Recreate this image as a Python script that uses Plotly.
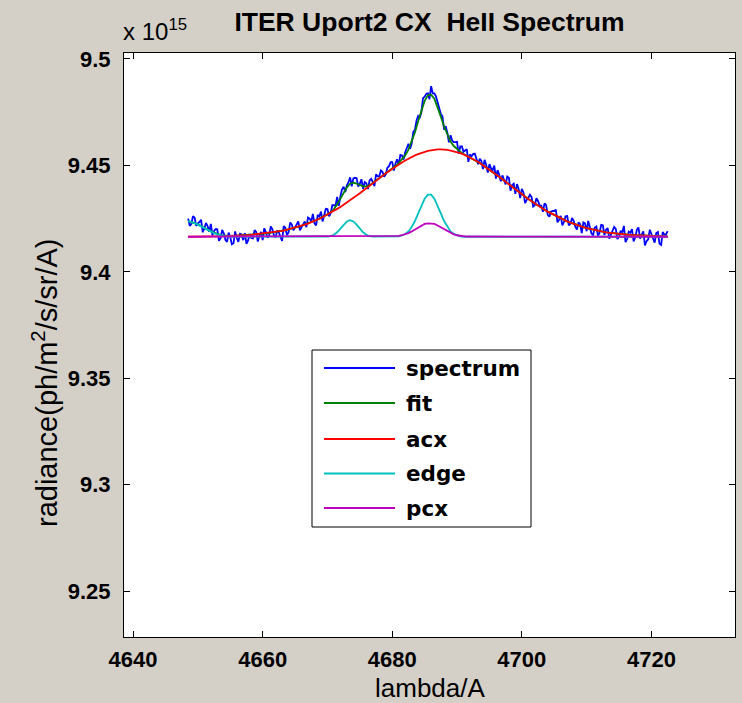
import plotly.graph_objects as go

# ---------------- data (radiance in units of 1e15 ph/m^2/s/sr/A) ----------------
# measured spectrum, 0.25 A sampling from 4648.5 A
spectrum_wavelength = [round(4648.5 + 0.25 * i, 2) for i in range(297)]
spectrum = [
    9.4250, 9.4216, 9.4226, 9.4262, 9.4254, 9.4216, 9.4228, 9.4234, 9.4245, 9.4186,
    9.4204, 9.4230, 9.4215, 9.4189, 9.4225, 9.4172, 9.4192, 9.4201, 9.4200, 9.4146,
    9.4158, 9.4197, 9.4181, 9.4150, 9.4141, 9.4184, 9.4164, 9.4129, 9.4134, 9.4190,
    9.4160, 9.4141, 9.4179, 9.4176, 9.4149, 9.4182, 9.4132, 9.4148, 9.4178, 9.4159,
    9.4157, 9.4196, 9.4188, 9.4142, 9.4169, 9.4188, 9.4149, 9.4205, 9.4186, 9.4161,
    9.4170, 9.4214, 9.4200, 9.4171, 9.4162, 9.4194, 9.4185, 9.4162, 9.4145, 9.4215,
    9.4206, 9.4173, 9.4185, 9.4232, 9.4223, 9.4195, 9.4211, 9.4225, 9.4237, 9.4195,
    9.4207, 9.4225, 9.4237, 9.4210, 9.4255, 9.4250, 9.4238, 9.4272, 9.4228, 9.4218,
    9.4268, 9.4260, 9.4283, 9.4237, 9.4269, 9.4296, 9.4295, 9.4261, 9.4276, 9.4313,
    9.4313, 9.4311, 9.4352, 9.4310, 9.4355, 9.4388, 9.4400, 9.4375, 9.4407, 9.4421,
    9.4444, 9.4402, 9.4439, 9.4442, 9.4440, 9.4401, 9.4415, 9.4435, 9.4390, 9.4422,
    9.4416, 9.4389, 9.4429, 9.4437, 9.4422, 9.4403, 9.4458, 9.4449, 9.4450, 9.4476,
    9.4469, 9.4447, 9.4458, 9.4489, 9.4496, 9.4515, 9.4515, 9.4476, 9.4509, 9.4529,
    9.4503, 9.4549, 9.4547, 9.4527, 9.4562, 9.4581, 9.4602, 9.4578, 9.4601, 9.4658,
    9.4667, 9.4711, 9.4732, 9.4723, 9.4751, 9.4816, 9.4823, 9.4836, 9.4839, 9.4811,
    9.4872, 9.4838, 9.4838, 9.4824, 9.4795, 9.4762, 9.4741, 9.4731, 9.4668, 9.4684,
    9.4654, 9.4608, 9.4642, 9.4617, 9.4609, 9.4609, 9.4611, 9.4555, 9.4589, 9.4589,
    9.4564, 9.4570, 9.4576, 9.4517, 9.4552, 9.4543, 9.4554, 9.4555, 9.4526, 9.4506,
    9.4531, 9.4521, 9.4483, 9.4526, 9.4503, 9.4466, 9.4506, 9.4486, 9.4478, 9.4499,
    9.4438, 9.4478, 9.4457, 9.4426, 9.4453, 9.4434, 9.4411, 9.4448, 9.4442, 9.4381,
    9.4408, 9.4414, 9.4366, 9.4412, 9.4391, 9.4346, 9.4390, 9.4374, 9.4323, 9.4338,
    9.4347, 9.4362, 9.4352, 9.4307, 9.4313, 9.4346, 9.4333, 9.4311, 9.4311, 9.4282,
    9.4322, 9.4313, 9.4268, 9.4259, 9.4283, 9.4286, 9.4286, 9.4292, 9.4233, 9.4245,
    9.4263, 9.4218, 9.4234, 9.4261, 9.4262, 9.4219, 9.4226, 9.4253, 9.4240, 9.4212,
    9.4199, 9.4232, 9.4224, 9.4182, 9.4232, 9.4228, 9.4191, 9.4239, 9.4207, 9.4180,
    9.4173, 9.4207, 9.4213, 9.4169, 9.4184, 9.4221, 9.4219, 9.4173, 9.4198, 9.4205,
    9.4156, 9.4173, 9.4192, 9.4211, 9.4202, 9.4154, 9.4166, 9.4193, 9.4185, 9.4216,
    9.4140, 9.4155, 9.4189, 9.4184, 9.4201, 9.4143, 9.4162, 9.4197, 9.4209, 9.4156,
    9.4175, 9.4190, 9.4124, 9.4144, 9.4153, 9.4198, 9.4178, 9.4158, 9.4137, 9.4182,
    9.4187, 9.4132, 9.4127, 9.4187, 9.4174, 9.4176, 9.4191,
]

# model curves, 0.5 A sampling from 4648.5 A
wavelength = [round(4648.5 + 0.5 * i, 1) for i in range(149)]
fit = [
    9.4238, 9.4234, 9.4229, 9.4223, 9.4215, 9.4206, 9.4197, 9.4190, 9.4184, 9.4178,
    9.4173, 9.4171, 9.4169, 9.4169, 9.4169, 9.4170, 9.4171, 9.4171, 9.4172, 9.4173,
    9.4175, 9.4176, 9.4177, 9.4179, 9.4180, 9.4182, 9.4185, 9.4187, 9.4190, 9.4193,
    9.4196, 9.4200, 9.4203, 9.4207, 9.4212, 9.4217, 9.4222, 9.4227, 9.4233, 9.4240,
    9.4246, 9.4253, 9.4261, 9.4270, 9.4281, 9.4295, 9.4317, 9.4343, 9.4372, 9.4397,
    9.4414, 9.4419, 9.4415, 9.4407, 9.4402, 9.4401, 9.4407, 9.4417, 9.4428, 9.4440,
    9.4451, 9.4463, 9.4474, 9.4485, 9.4497, 9.4511, 9.4527, 9.4547, 9.4574, 9.4611,
    9.4655, 9.4707, 9.4759, 9.4803, 9.4829, 9.4832, 9.4813, 9.4775, 9.4729, 9.4683,
    9.4644, 9.4612, 9.4591, 9.4576, 9.4564, 9.4554, 9.4546, 9.4537, 9.4529, 9.4521,
    9.4511, 9.4501, 9.4491, 9.4481, 9.4470, 9.4458, 9.4447, 9.4435, 9.4423, 9.4412,
    9.4400, 9.4388, 9.4376, 9.4365, 9.4353, 9.4342, 9.4332, 9.4321, 9.4311, 9.4301,
    9.4292, 9.4283, 9.4275, 9.4266, 9.4258, 9.4251, 9.4244, 9.4237, 9.4231, 9.4225,
    9.4219, 9.4214, 9.4210, 9.4206, 9.4202, 9.4198, 9.4195, 9.4192, 9.4189, 9.4186,
    9.4184, 9.4182, 9.4180, 9.4178, 9.4177, 9.4175, 9.4174, 9.4173, 9.4172, 9.4171,
    9.4170, 9.4169, 9.4168, 9.4168, 9.4167, 9.4167, 9.4167, 9.4166, 9.4166,
]
acx = [
    9.4165, 9.4165, 9.4165, 9.4166, 9.4166, 9.4166, 9.4166, 9.4167, 9.4167, 9.4167,
    9.4167, 9.4168, 9.4168, 9.4169, 9.4169, 9.4170, 9.4171, 9.4171, 9.4172, 9.4173,
    9.4175, 9.4176, 9.4177, 9.4179, 9.4180, 9.4182, 9.4185, 9.4187, 9.4190, 9.4193,
    9.4196, 9.4200, 9.4203, 9.4207, 9.4212, 9.4217, 9.4222, 9.4227, 9.4233, 9.4240,
    9.4246, 9.4253, 9.4261, 9.4269, 9.4278, 9.4286, 9.4296, 9.4305, 9.4315, 9.4325,
    9.4336, 9.4347, 9.4358, 9.4369, 9.4381, 9.4392, 9.4404, 9.4416, 9.4428, 9.4440,
    9.4451, 9.4463, 9.4474, 9.4484, 9.4495, 9.4505, 9.4514, 9.4523, 9.4532, 9.4540,
    9.4547, 9.4553, 9.4559, 9.4564, 9.4568, 9.4571, 9.4574, 9.4575, 9.4575, 9.4575,
    9.4573, 9.4570, 9.4567, 9.4563, 9.4558, 9.4552, 9.4545, 9.4537, 9.4529, 9.4521,
    9.4511, 9.4501, 9.4491, 9.4481, 9.4470, 9.4458, 9.4447, 9.4435, 9.4423, 9.4412,
    9.4400, 9.4388, 9.4376, 9.4365, 9.4353, 9.4342, 9.4332, 9.4321, 9.4311, 9.4301,
    9.4292, 9.4283, 9.4275, 9.4266, 9.4258, 9.4251, 9.4244, 9.4237, 9.4231, 9.4225,
    9.4219, 9.4214, 9.4210, 9.4206, 9.4202, 9.4198, 9.4195, 9.4192, 9.4189, 9.4186,
    9.4184, 9.4182, 9.4180, 9.4178, 9.4177, 9.4175, 9.4174, 9.4173, 9.4172, 9.4171,
    9.4170, 9.4169, 9.4168, 9.4168, 9.4167, 9.4167, 9.4167, 9.4166, 9.4166,
]

edge_wavelength = [
    4648.5, 4649.0, 4649.5, 4650.0, 4650.5, 4651.0, 4651.5, 4652.0, 4652.5, 4653.0,
    4653.5, 4654.0, 4654.5, 4655.0,
    4670.0, 4670.5, 4671.0, 4671.5, 4672.0, 4672.5, 4673.0, 4673.5, 4674.0, 4674.5,
    4675.0, 4675.5, 4676.0, 4676.5, 4677.0,
    4680.5, 4681.0, 4681.5, 4682.0, 4682.5, 4683.0, 4683.5, 4684.0, 4684.5, 4685.0,
    4685.5, 4686.0, 4686.5, 4687.0, 4687.5, 4688.0, 4688.5, 4689.0, 4689.5, 4690.0,
    4690.5, 4691.0,
    4722.5,
]
edge = [
    9.4238, 9.4234, 9.4229, 9.4222, 9.4214, 9.4205, 9.4196, 9.4188, 9.4182, 9.4176,
    9.4171, 9.4168, 9.4166, 9.4165,
    9.4166, 9.4168, 9.4174, 9.4186, 9.4203, 9.4222, 9.4237, 9.4243, 9.4237, 9.4222,
    9.4203, 9.4186, 9.4174, 9.4168, 9.4166,
    9.4165, 9.4167, 9.4171, 9.4178, 9.4190, 9.4211, 9.4239, 9.4275, 9.4312, 9.4344,
    9.4363, 9.4363, 9.4344, 9.4312, 9.4275, 9.4239, 9.4211, 9.4190, 9.4178, 9.4171,
    9.4167, 9.4165,
    9.4165,
]

pcx_wavelength = [
    4648.5,
    4680.0, 4680.5, 4681.0, 4681.5, 4682.0, 4682.5, 4683.0, 4683.5, 4684.0, 4684.5,
    4685.0, 4685.5, 4686.0, 4686.5, 4687.0, 4687.5, 4688.0, 4688.5, 4689.0, 4689.5,
    4690.0, 4690.5, 4691.0, 4691.5,
    4722.5,
]
pcx = [
    9.4165,
    9.4166, 9.4167, 9.4169, 9.4172, 9.4176, 9.4182, 9.4190, 9.4199, 9.4209, 9.4218,
    9.4225, 9.4228, 9.4228, 9.4225, 9.4218, 9.4209, 9.4199, 9.4190, 9.4182, 9.4176,
    9.4172, 9.4169, 9.4167, 9.4166,
    9.4165,
]

series_names = ["spectrum", "fit", "acx", "edge", "pcx"]
x_ticks = [4640, 4660, 4680, 4700, 4720]
y_ticks = [9.25, 9.3, 9.35, 9.4, 9.45, 9.5]
y_tick_labels = ["9.25", "9.3", "9.35", "9.4", "9.45", "9.5"]

# ---------------- styling / layout ----------------
colors = ["#0000ff", "#008000", "#ff0000", "#00bfbf", "#bf00bf"]
widths = [1.8, 1.8, 1.8, 1.8, 1.8]
W, H = 742, 703
L, R, T, B = 124, 735, 53, 637   # plot area in pixels
BG = "#d4d0c8"
FONT = "Liberation Sans, Arial, sans-serif"


def px(xp):
    return (xp - L) / (R - L)


def py(yp):
    return (B - yp) / (B - T)


xs = [spectrum_wavelength, wavelength, wavelength, edge_wavelength, pcx_wavelength]
ys = [spectrum, fit, acx, edge, pcx]

fig = go.Figure()
for name, x, y, c, w in zip(series_names, xs, ys, colors, widths):
    fig.add_trace(go.Scatter(x=x, y=y, mode="lines", name=name,
                             line=dict(color=c, width=w), showlegend=False,
                             hoverinfo="skip"))

axis_common = dict(showline=True, linecolor="black", linewidth=1, mirror="ticks",
                   ticks="inside", ticklen=6, tickcolor="black", tickwidth=1,
                   showgrid=False, zeroline=False,
                   tickfont=dict(family=FONT, size=22, color="black", weight="bold"))

fig.update_xaxes(range=[4638.6, 4732.9], tickvals=x_ticks, ticklabelstandoff=3,
                 **axis_common)
fig.update_yaxes(range=[9.2285, 9.5028], tickvals=y_ticks, ticktext=y_tick_labels,
                 ticklabelstandoff=8, **axis_common)

shapes = []
annotations = []
# legend box
shapes.append(dict(type="rect", xref="paper", yref="paper",
                   x0=px(312), x1=px(531), y0=py(527), y1=py(350),
                   line=dict(color="black", width=1), fillcolor="white", layer="above"))
legend_rows = [368, 403, 439, 473.5, 508]
for name, c, yp in zip(series_names, colors, legend_rows):
    shapes.append(dict(type="line", xref="paper", yref="paper",
                       x0=px(324), x1=px(395), y0=py(yp), y1=py(yp),
                       line=dict(color=c, width=1.8), layer="above"))
    annotations.append(dict(text=name, xref="paper", yref="paper",
                            x=px(404), y=py(yp), xanchor="left", yanchor="middle",
                            showarrow=False,
                            font=dict(family="DejaVu Sans", size=21.5, color="black",
                                      weight="bold")))

# axis titles
annotations.append(dict(text="lambda/A", xref="paper", yref="paper",
                        x=0.5, y=py(687.5), xanchor="center", yanchor="middle",
                        showarrow=False, font=dict(family=FONT, size=26, color="black")))
annotations.append(dict(text="radiance(ph/m<sup>2</sup>/s/sr/A)", xref="paper", yref="paper",
                        x=px(45), y=py(382), xanchor="center", yanchor="middle",
                        textangle=-90, showarrow=False,
                        font=dict(family=FONT, size=29, color="black")))
# exponent label
annotations.append(dict(text="x 10<sup>15</sup>", xref="paper", yref="paper",
                        x=px(121), y=py(30), xanchor="left", yanchor="middle",
                        showarrow=False, font=dict(family=FONT, size=24, color="black")))

fig.update_layout(
    width=W, height=H,
    margin=dict(l=L, r=W - R, t=T, b=H - B),
    paper_bgcolor=BG, plot_bgcolor="white",
    title=dict(text="ITER Uport2 CX  HeII Spectrum", x=0.5, xref="paper",
               xanchor="center", y=1 - 22 / H, yref="container", yanchor="middle",
               font=dict(family=FONT, size=26.5, color="black", weight="bold")),
    shapes=shapes, annotations=annotations,
)

fig.write_html("out.html", config={"displayModeBar": False},
               post_script="document.body.style.margin='0px';document.body.style.overflow='hidden';")
